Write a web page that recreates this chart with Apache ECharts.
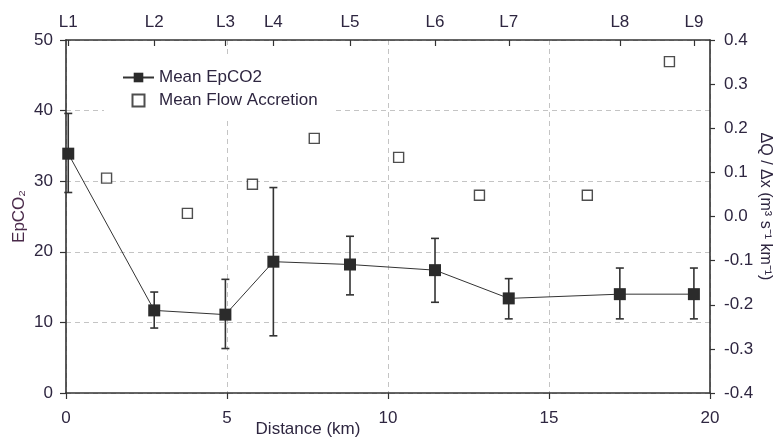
<!DOCTYPE html>
<html>
<head>
<meta charset="utf-8">
<script src="https://cdn.jsdelivr.net/npm/echarts@6/dist/echarts.min.js"></script>
<style>html,body{margin:0;padding:0;background:#fff}#c{width:780px;height:437px}</style>
</head>
<body>
<div id="c"></div>
<script>
// Stations (top axis)
var stations = ['L1','L2','L3','L4','L5','L6','L7','L8','L9'];
var stationDistance = [0.07, 2.74, 4.95, 6.44, 8.82, 11.46, 13.75, 17.2, 19.5];
// Mean EpCO2 and error bar bounds
var epco2Mean  = [33.9, 11.7, 11.1, 18.6, 18.2, 17.4, 13.4, 14.0, 14.0];
var epco2Upper = [39.6, 14.3, 16.1, 29.1, 22.2, 21.9, 16.2, 17.7, 17.7];
var epco2Lower = [28.4, 9.2, 6.3, 8.1, 13.9, 12.85, 10.5, 10.5, 10.5];
// Mean flow accretion
var flowDistance = [1.26, 3.77, 5.79, 7.71, 10.33, 12.84, 16.19, 18.74];
var flowValue    = [0.087, 0.007, 0.073, 0.177, 0.134, 0.048, 0.048, 0.351];

var txt = '#2e2640';
var font = 'Liberation Sans, Arial, sans-serif';
var axisCol = '#333';

var epData = stationDistance.map(function(d,i){return [d, epco2Mean[i]];});
var errData = stationDistance.map(function(d,i){return [d, epco2Lower[i], epco2Upper[i]];});
var flowData = flowDistance.map(function(d,i){return [d, flowValue[i]];});

var chart = echarts.init(document.getElementById('c'));
chart.setOption({
  animation: false,
  textStyle: {fontFamily: font},
  grid: {left: 66, right: 70, top: 40, bottom: 44, containLabel: false, outerBoundsMode: 'none'},
  legend: {
    orient: 'vertical', left: 104, top: 57,
    padding: [12, 17, 8, 18], itemGap: 6,
    itemWidth: 31, itemHeight: 12,
    backgroundColor: '#fff',
    textStyle: {color: txt, fontSize: 17, fontFamily: font},
    data: [{name: 'Mean EpCO2'}, {name: 'Mean Flow Accretion', icon: 'path://M0,0L10,0L10,10L0,10Z'}]
  },
  xAxis: [{
    type: 'value', position: 'bottom', min: 0, max: 20, interval: 5,
    name: 'Distance (km)', nameLocation: 'middle', nameGap: 28, nameMoveOverlap: false,
    nameTextStyle: {color: txt, fontSize: 17, padding: [0, 160, 0, 0]},
    axisLine: {onZero: false, lineStyle: {color: axisCol, width: 1.6}},
    axisTick: {length: 6, lineStyle: {color: axisCol, width: 1.2}},
    axisLabel: {color: txt, fontSize: 17, margin: 17},
    splitLine: {show: true, lineStyle: {color: '#c4c4c4', type: [5, 4], width: 1}}
  }, {
    type: 'value', position: 'top', min: 0, max: 20,
    axisLine: {onZero: false, lineStyle: {color: axisCol, width: 1.6}},
    axisTick: {inside: true, length: 6, customValues: stationDistance, lineStyle: {color: axisCol, width: 1.2}},
    axisLabel: {color: txt, fontSize: 17, margin: 9, customValues: stationDistance,
      formatter: function(v){ var i = stationDistance.indexOf(v); return i >= 0 ? stations[i] : ''; }},
    splitLine: {show: false}
  }],
  yAxis: [{
    type: 'value', position: 'left', min: 0, max: 50, interval: 10,
    name: 'EpCO\u2082', nameLocation: 'middle', nameGap: 38, nameRotate: 90, nameMoveOverlap: false,
    nameTextStyle: {color: '#4a2a4a', fontSize: 17},
    axisLine: {show: true, onZero: false, lineStyle: {color: axisCol, width: 1.6}},
    axisTick: {show: true, length: 6, lineStyle: {color: axisCol, width: 1.2}},
    axisLabel: {color: txt, fontSize: 17, margin: 13},
    splitLine: {show: true, lineStyle: {color: '#c4c4c4', type: [5, 4], width: 1}}
  }, {
    type: 'value', position: 'right', min: -0.4, max: 0.4, interval: 0.1,
    name: '\u0394Q / \u0394x (m\u00b3 s\u207b\u00b9 km\u207b\u00b9)', nameLocation: 'middle', nameGap: 47, nameRotate: -90, nameMoveOverlap: false,
    nameTextStyle: {color: txt, fontSize: 16, padding: [0, 20, 0, 0]},
    axisLine: {show: true, onZero: false, lineStyle: {color: axisCol, width: 1.6}},
    axisTick: {show: true, length: 5, lineStyle: {color: axisCol, width: 1.2}},
    axisLabel: {color: txt, fontSize: 17, margin: 14, formatter: function(v){ return (Math.round(v*10)/10).toFixed(1); }},
    splitLine: {show: false}
  }],
  series: [{
    name: 'error', type: 'custom', xAxisIndex: 0, yAxisIndex: 0, silent: true, z: 3,
    data: errData,
    renderItem: function(params, api){
      var x = api.value(0);
      var lo = api.coord([x, api.value(1)]);
      var hi = api.coord([x, api.value(2)]);
      var w = 4;
      var st = {stroke: '#333', lineWidth: 1.6};
      return {type: 'group', children: [
        {type: 'line', shape: {x1: lo[0], y1: lo[1], x2: hi[0], y2: hi[1]}, style: st},
        {type: 'line', shape: {x1: lo[0]-w, y1: lo[1], x2: lo[0]+w, y2: lo[1]}, style: st},
        {type: 'line', shape: {x1: hi[0]-w, y1: hi[1], x2: hi[0]+w, y2: hi[1]}, style: st}
      ]};
    }
  }, {
    name: 'Mean EpCO2', type: 'line', xAxisIndex: 0, yAxisIndex: 0, z: 4,
    data: epData, symbol: 'rect', symbolSize: 12,
    lineStyle: {color: '#333', width: 1},
    itemStyle: {color: '#2b2b2b'}
  }, {
    name: 'Mean Flow Accretion', type: 'scatter', xAxisIndex: 0, yAxisIndex: 1, z: 4,
    data: flowData, symbol: 'rect', symbolSize: 10, symbolKeepAspect: true,
    itemStyle: {color: '#fff', borderColor: '#222', borderWidth: 1.4}
  }]
});
</script>
</body>
</html>
